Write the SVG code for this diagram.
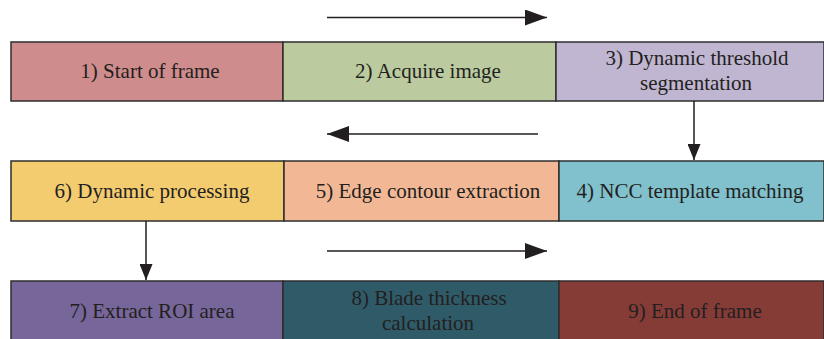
<svg xmlns="http://www.w3.org/2000/svg" width="824" height="339" viewBox="0 0 824 339">
<defs>
<style>
.c{stroke:#2e2e2e;stroke-width:1.5}
.t{font-family:'Liberation Serif','Times New Roman',serif;font-size:21px;fill:#231f20;text-anchor:middle}
.l{stroke:#231f20;stroke-width:1.5;fill:none}
</style>
<marker id="ah" viewBox="0 0 22 16" refX="22" refY="8" markerWidth="22" markerHeight="16" markerUnits="userSpaceOnUse" orient="auto">
<path d="M0,0 L22,8 L0,16 Z" fill="#231f20"/>
</marker>
<marker id="av" viewBox="0 0 16 13" refX="16" refY="6.5" markerWidth="16" markerHeight="13" markerUnits="userSpaceOnUse" orient="auto">
<path d="M0,0 L16,6.5 L0,13 Z" fill="#231f20"/>
</marker>
</defs>
<rect width="824" height="339" fill="#ffffff"/>
<g id="n1"><rect class="c" x="11" y="42" width="272" height="59" fill="#cf8c8c"/><text class="t" x="150" y="78">1) Start of frame</text></g>
<g id="n2"><rect class="c" x="283" y="42" width="273" height="59" fill="#bbcb9f"/><text class="t" x="428" y="78">2) Acquire image</text></g>
<g id="n3"><rect class="c" x="556" y="42" width="268" height="59" fill="#c0b6d1"/><text class="t" x="697" y="65">3) Dynamic threshold</text><text class="t" x="696" y="90">segmentation</text></g>
<g id="n6"><rect class="c" x="11" y="161" width="273" height="60" fill="#f4cc70"/><text class="t" x="152" y="198">6) Dynamic processing</text></g>
<g id="n5"><rect class="c" x="284" y="161" width="275" height="60" fill="#f2b896"/><text class="t" x="428" y="198">5) Edge contour extraction</text></g>
<g id="n4"><rect class="c" x="559" y="161" width="265" height="60" fill="#80c1cd"/><text class="t" x="690" y="198">4) NCC template matching</text></g>
<g id="n7"><rect class="c" x="11" y="281" width="272" height="60" fill="#776699"/><text class="t" x="152" y="318">7) Extract ROI area</text></g>
<g id="n8"><rect class="c" x="283" y="281" width="276" height="60" fill="#2f5a68"/><text class="t" x="429" y="305">8) Blade thickness</text><text class="t" x="428" y="330">calculation</text></g>
<g id="n9"><rect class="c" x="559" y="281" width="265" height="60" fill="#853c37"/><text class="t" x="695" y="318">9) End of frame</text></g>
<g id="connectors">
<line class="l" x1="327" y1="17.5" x2="547" y2="17.5" marker-end="url(#ah)"/>
<line class="l" x1="538" y1="134" x2="327" y2="134" marker-end="url(#ah)"/>
<line class="l" x1="327" y1="251" x2="547" y2="251" marker-end="url(#ah)"/>
<line class="l" x1="694" y1="101" x2="694" y2="160" marker-end="url(#av)"/>
<line class="l" x1="146" y1="221" x2="146" y2="280" marker-end="url(#av)"/>
</g>
</svg>
